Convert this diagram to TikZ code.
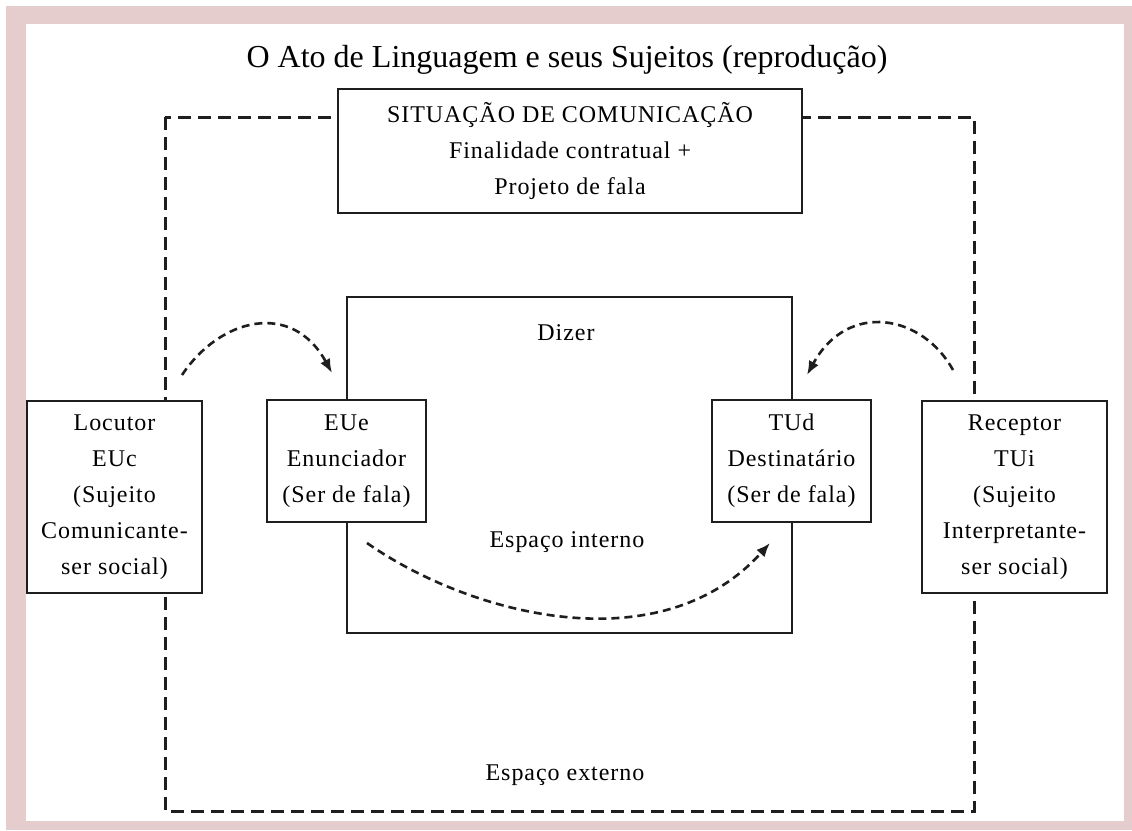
\documentclass[tikz,border=0pt]{standalone}
\usepackage{fontspec}
\setmainfont{Liberation Serif}
\usetikzlibrary{arrows.meta}
\definecolor{framepink}{RGB}{229,205,205}
\definecolor{inkgray}{RGB}{30,30,30}
\newfontfamily\boxfont[LetterSpace=4]{Liberation Serif}
\begin{document}
\begin{tikzpicture}[x=1pt,y=-1pt,
  box/.style={draw=inkgray, line width=2.6pt, fill=white, align=center, inner sep=0pt,
    font=\boxfont\fontsize{24}{36}\selectfont},
  lbl/.style={font=\boxfont\fontsize{24}{36}\selectfont},
  outerline/.style={draw=inkgray, line width=3pt, dash pattern=on 13pt off 7pt},
  flow/.style={draw=inkgray, line width=2.6pt, dash pattern=on 8pt off 5pt,
    -{Latex[length=14pt,width=11pt]}}]
\useasboundingbox (0,0) rectangle (1132,830);
% frame
\fill [framepink] (6,6) rectangle (1132,830);
\fill [white] (26,24) rectangle (1124,821);
\node [font=\fontsize{32}{36}\selectfont] (title) at (567,60) {O Ato de Linguagem e seus Sujeitos (reprodução)};
% spaces
\draw [outerline] (165,117) rectangle (974,811);
\draw [draw=inkgray, line width=2.6pt] (347,297) rectangle (792,633);
\node [box, minimum width=464pt, minimum height=124pt] (situacao) at (570,151)
  {SITUAÇÃO DE COMUNICAÇÃO\\Finalidade contratual +\\Projeto de fala};
\node [lbl] (dizer) at (566,333) {Dizer};
\node [lbl] (interno) at (567,542) {Espaço interno};
\node [lbl] (externo) at (565,775) {Espaço externo};
% subjects
\node [box, minimum width=175pt, minimum height=192pt] (locutor) at (114.5,497)
  {Locutor\\EUc\\(Sujeito\\Comunicante-\\ser social)};
\node [box, minimum width=159pt, minimum height=122pt] (eue) at (346.5,461)
  {EUe\\Enunciador\\(Ser de fala)};
\node [box, minimum width=159pt, minimum height=122pt] (tud) at (791.5,461)
  {TUd\\Destinatário\\(Ser de fala)};
\node [box, minimum width=185pt, minimum height=192pt] (receptor) at (1014.5,497)
  {Receptor\\TUi\\(Sujeito\\Interpretante-\\ser social)};
% arrow ends
\coordinate (euc-out) at (182,375);
\coordinate (eue-in) at (332,373);
\coordinate (tui-out) at (953,370);
\coordinate (tud-in) at (807,375);
\coordinate (eue-out) at (367,543);
\coordinate (tud-in2) at (770,543);
\draw [flow] (euc-out) .. controls (220,318) and (292,300) .. (eue-in);
\draw [flow] (tui-out) .. controls (923,315) and (848,300) .. (tud-in);
\draw [flow] (eue-out) .. controls (470,615) and (660,665) .. (tud-in2);
\end{tikzpicture}
\end{document}
